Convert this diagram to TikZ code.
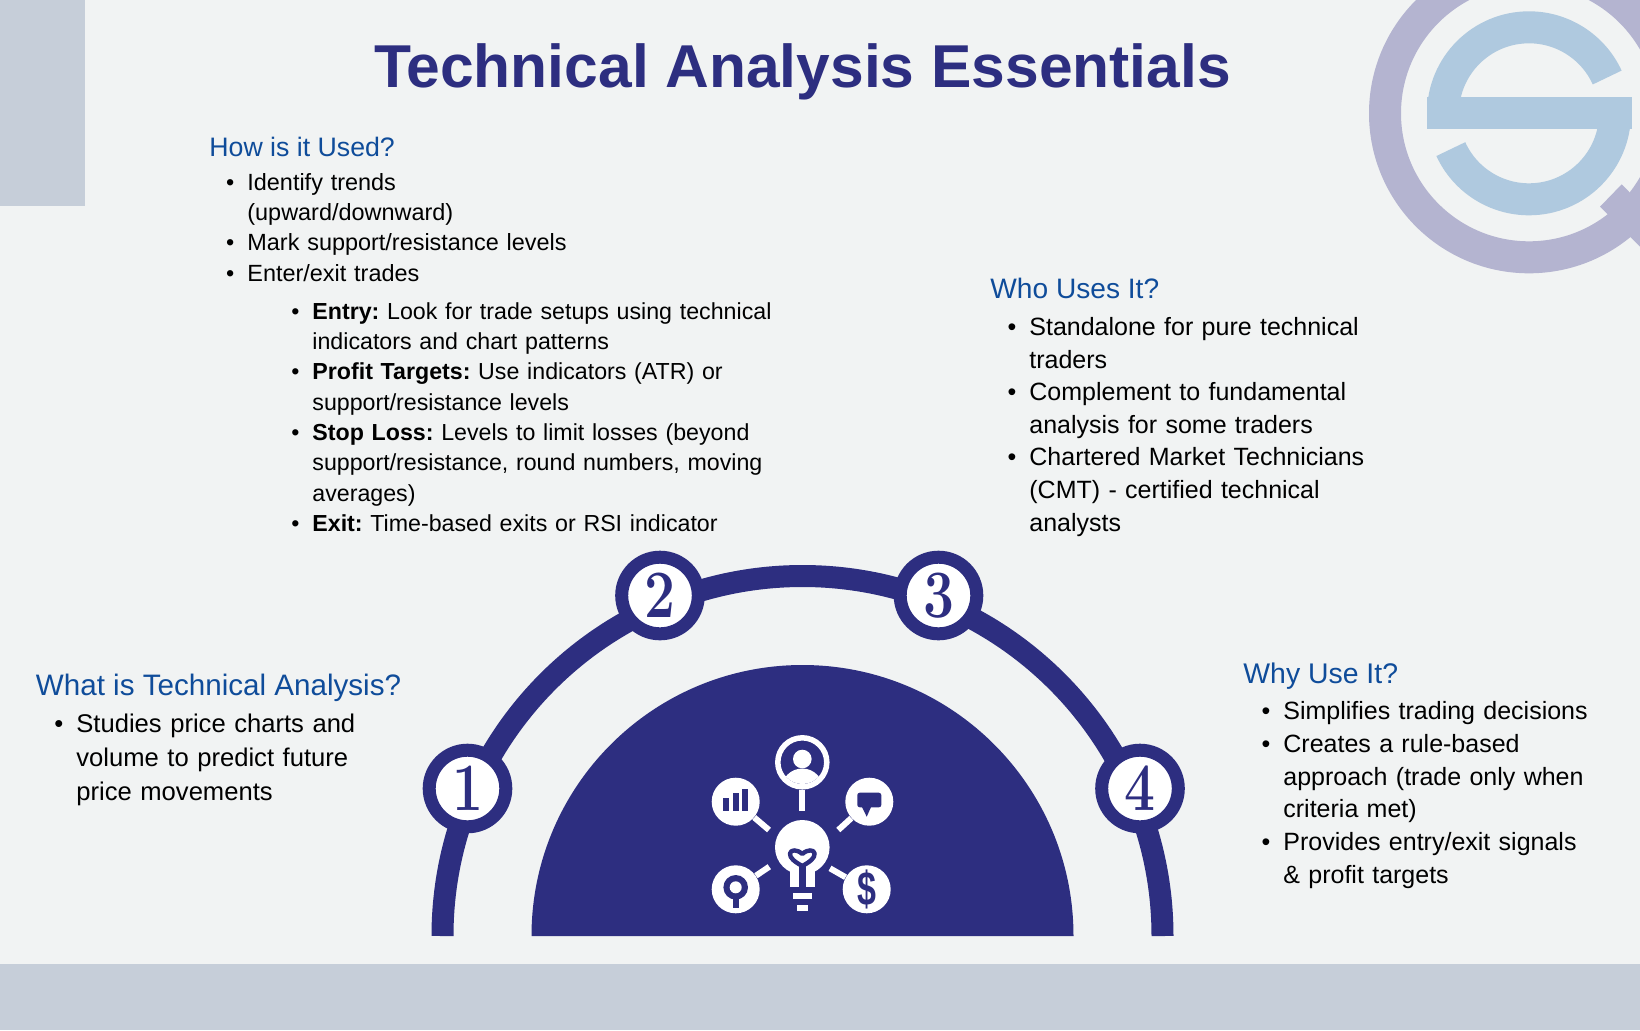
\documentclass[tikz,border=0pt]{standalone}
\usepackage{fontspec}
\usepackage{tikz}
\newfontfamily\bodyfont{Liberation Sans}
\definecolor{navy}{HTML}{2D2E80}
\definecolor{headblue}{HTML}{0F4C9A}
\definecolor{paper}{HTML}{F1F3F3}
\definecolor{band}{HTML}{C6CED9}
\definecolor{logoring}{HTML}{B4B4D0}
\definecolor{logos}{HTML}{AFC9DF}
\newcommand{\badgedigit}[1]{\scalebox{0.86}[1.06]{#1}}
\newenvironment{blist}[2]{\frenchspacing\begin{list}{\textbullet}{\setlength{\leftmargin}{#1}\setlength{\labelsep}{#2}\setlength{\labelwidth}{\dimexpr#1-#2\relax}\setlength{\itemsep}{0pt}\setlength{\parsep}{0pt}\setlength{\topsep}{0pt}\setlength{\partopsep}{0pt}\setlength{\parskip}{0pt}}}{\end{list}}
\tikzset{
	heading/.style={anchor=base west,inner sep=0pt,text=headblue,font=\bodyfont\fontsize{#1}{16}\selectfont},
	listblock/.style={anchor=north west,inner sep=0pt,text width=#1,align=left,text=black},
	numbadge/.style={circle,draw=navy,line width=6.5pt,fill=white,minimum size=38.3pt,inner sep=0pt,text=navy,font=\rmfamily\bfseries\fontsize{32}{32}\selectfont},
	iconball/.style={circle,fill=white,minimum size=24pt,inner sep=0pt},
	handle/.style={draw=white,line width=3pt},
}
\begin{document}
\begin{tikzpicture}[x=0.5pt,y=-0.5pt]
	\useasboundingbox (0,0) rectangle (1640,1030);
	\clip (0,0) rectangle (1640,1030);
	\fill[paper] (0,0) rectangle (1640,1030);
	\fill[band] (0,0) rectangle (85,206);
	\fill[band] (0,964) rectangle (1640,1030);
	% logo
	\coordinate (logo) at (1529,113.3);
	\draw[logoring,line width=16pt] (logo) circle (144);
	\fill[logoring] (1621.7,184.3) -- (1600,206.7) -- (1640,246.7) -- (1640,203) -- cycle;
	\draw[logos,line width=16pt] (1443,113.3) arc[start angle=180,end angle=335.4,radius=86];
	\draw[logos,line width=16pt] (1615,113.3) arc[start angle=0,end angle=155.4,radius=86];
	\fill[logos] (1426.7,97.3) rectangle (1631.7,129.3);
	% title
	\node[inner sep=0pt,anchor=base,text=navy,font=\bodyfont\bfseries\fontsize{30.26}{36}\selectfont] (title) at (802.5,87) {Technical Analysis Essentials};
	% text blocks
	\node[heading=13.35] (howhead) at (209,156) {How is it Used?};
	\node[listblock=300pt,font=\bodyfont\fontsize{11.72}{15.15}\selectfont] (howlist) at (209,159.5) {\begin{blist}{19pt}{6.5pt}
		\item Identify trends\\(upward/downward)
		\item Mark support/resistance levels
		\item Enter/exit trades
	\end{blist}};
	\node[listblock=300pt,font=\bodyfont\fontsize{11.6}{15.15}\selectfont] (entrylist) at (280,288.5) {\begin{blist}{16pt}{6.5pt}
		\item \textbf{Entry:} Look for trade setups using technical\\indicators and chart patterns
		\item \textbf{Profit Targets:} Use indicators (ATR) or\\support/resistance levels
		\item \textbf{Stop Loss:} Levels to limit losses (beyond\\support/resistance, round numbers, moving\\averages)
		\item \textbf{Exit:} Time-based exits or RSI indicator
	\end{blist}};
	\node[heading=14.06] (whohead) at (990,298) {Who Uses It?};
	\node[listblock=300pt,font=\bodyfont\fontsize{12.5}{16.3}\selectfont] (wholist) at (990,302.5) {\begin{blist}{19.5pt}{6.5pt}
		\item Standalone for pure technical\\traders
		\item Complement to fundamental\\analysis for some traders
		\item Chartered Market Technicians\\(CMT) - certified technical\\analysts
	\end{blist}};
	\node[heading=14.2] (whyhead) at (1243,683) {Why Use It?};
	\node[listblock=200pt,font=\bodyfont\fontsize{12.5}{16.35}\selectfont] (whylist) at (1243,686.5) {\begin{blist}{20pt}{6.5pt}
		\item Simplifies trading decisions
		\item Creates a rule-based\\approach (trade only when\\criteria met)
		\item Provides entry/exit signals\\\& profit targets
	\end{blist}};
	\node[heading=14.8] (whathead) at (35.5,695) {What is Technical Analysis?};
	\node[listblock=190pt,font=\bodyfont\fontsize{12.8}{17}\selectfont] (whatlist) at (36,698.5) {\begin{blist}{20pt}{6.5pt}
		\item Studies price charts and\\volume to predict future\\price movements
	\end{blist}};
	% arch
	\coordinate (archleft) at (442.5,936);
	\draw[navy,line width=11pt] (archleft) arc[start angle=180,end angle=360,radius=360];
	\fill[navy] (531.5,936) arc[start angle=180,end angle=360,radius=271] -- cycle;
	\node[numbadge] (one) at (467.5,788.5) {\badgedigit{1}};
	\node[numbadge] (two) at (660,595.5) {\badgedigit{2}};
	\node[numbadge] (three) at (938.5,595.5) {\badgedigit{3}};
	\node[numbadge] (four) at (1140,788.5) {\badgedigit{4}};
	% icons
	\node[circle,draw=white,fill=navy,line width=2.75pt,minimum size=24.5pt,inner sep=0pt] (person) at (802.3,762.3) {};
	\node[iconball] (chart) at (735.7,801.7) {};
	\node[iconball] (speech) at (869.3,801.7) {};
	\node[iconball] (pin) at (735.7,889.3) {};
	\node[iconball,text=navy,font=\bodyfont\bfseries\fontsize{20}{20}\selectfont] (dollar) at (866.7,889.3) {\scalebox{0.85}[1.2]{\$}};
	\coordinate (persontail) at (802.3,810.7);
	\coordinate (charttail) at (769,830);
	\coordinate (speechtail) at (838.3,830);
	\coordinate (pintail) at (769.3,866.7);
	\coordinate (dollartail) at (830,868.3);
	\draw[handle] (person) -- (persontail);
	\draw[handle] (chart) -- (charttail);
	\draw[handle] (speech) -- (speechtail);
	\draw[handle] (pin) -- (pintail);
	\draw[handle] (dollar) -- (dollartail);
	\begin{scope}
		\clip (person) circle (21.7);
		\fill[white] (802.3,759) circle (9.3);
		\fill[white] (802.3,789.5) circle (21);
	\end{scope}
	\foreach \bx/\by in {723.3/798,732.7/793,742/789.3} {
		\fill[navy] (\bx,\by) rectangle (\bx+6,810.7);
	}
	\fill[navy,rounded corners=1.2pt] (857.3,792.7) rectangle (881.3,807.3);
	\fill[navy] (861.5,806) -- (866.7,816.7) -- (871.5,806) -- cycle;
	\fill[navy] (735.7,887.3) circle (12.3);
	\fill[white] (735.7,887.3) circle (6);
	\fill[navy] (732.7,897) rectangle (738.7,908);
	% bulb
	\fill[white] (802.3,847.3) circle (27.3);
	\fill[white] (790,860) rectangle (815,886.7);
	\fill[white] (793.3,892.7) rectangle (811.7,899);
	\fill[white] (796.7,905) rectangle (808.3,911);
	\fill[navy] (799.3,866) rectangle (805.6,886.7);
	\draw[navy,line width=2.2pt,line join=round] (802.3,866) .. controls (795,862) and (789.5,858) .. (790,853.5) .. controls (790.5,849.5) and (797,849) .. (802.3,854) .. controls (807.6,849) and (814.1,849.5) .. (814.6,853.5) .. controls (815.1,858) and (809.6,862) .. cycle;
\end{tikzpicture}
\end{document}
